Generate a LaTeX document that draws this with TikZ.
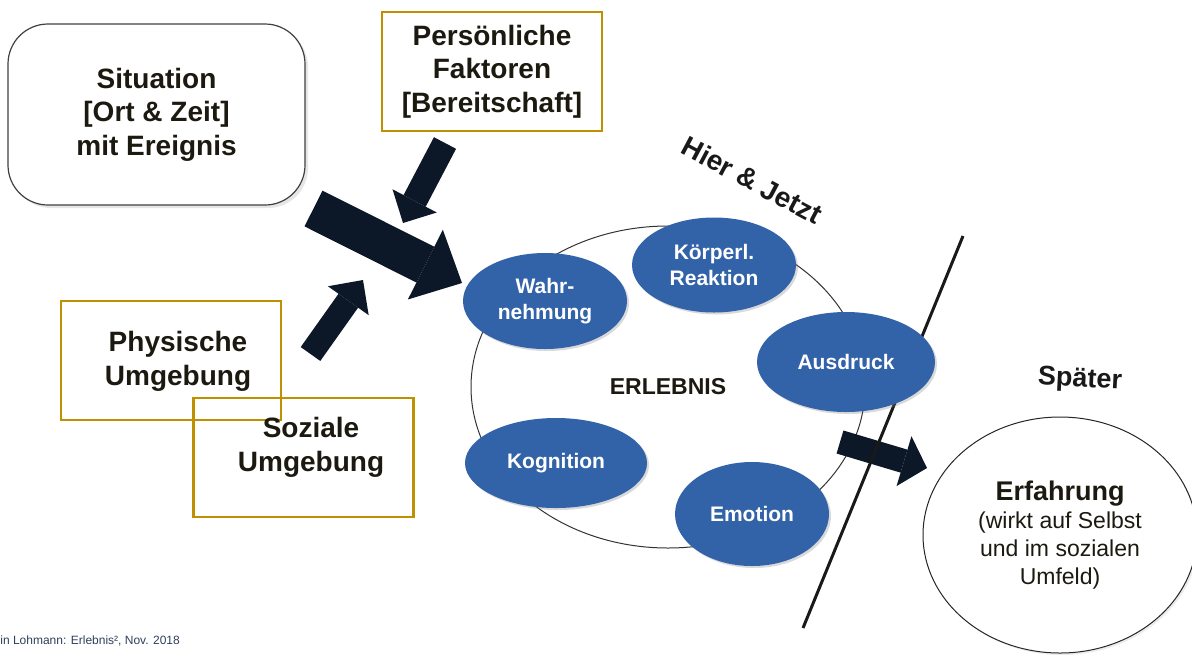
\documentclass[tikz,border=0pt]{standalone}
\usepackage{fontspec}
\setmainfont{Liberation Sans}
\usepackage{tikz}
\usetikzlibrary{arrows.meta,shapes.geometric,shadows}

\definecolor{goldframe}{HTML}{BF9000}
\definecolor{phaseblue}{HTML}{3263A9}
\definecolor{arrownavy}{HTML}{0C1727}
\definecolor{textdark}{HTML}{1C1A10}
\definecolor{sourceblue}{HTML}{2E3F5C}

\tikzset{
  factorbox/.style={draw=goldframe, line width=1.3pt, minimum width=110pt, minimum height=59.5pt},
  factortext/.style={align=center, text=textdark, font=\fontsize{14}{16.8}\selectfont\bfseries},
  phase/.style={ellipse, inner sep=0pt, fill=phaseblue, text=white, align=center,
    font=\fontsize{10.5}{13}\selectfont\bfseries,
    drop shadow={opacity=0.3, shadow xshift=1pt, shadow yshift=-1pt}},
  influence/.style={arrownavy, line width=#1}
}

\begin{document}
\begin{tikzpicture}[x=0.5pt,y=-0.5pt]

  \useasboundingbox (0,0) rectangle (1192,654);

  % Draw the boxes on the left
  \node[draw=black!75, line width=0.6pt, fill=white, rounded corners=20pt,
    minimum width=148.5pt, minimum height=90.5pt, factortext,
    drop shadow={opacity=0.2, shadow xshift=1.5pt, shadow yshift=-1.5pt}]
    (sit) at (156.5,114.5) {Situation\\{}[Ort \& Zeit]\\mit Ereignis};
  \node[factorbox, factortext] (pers) at (492,71.5) {Persönliche\\Faktoren\\{}[Bereitschaft]};
  \node[factorbox] (phys) at (171,360.5) {};
  \node[factortext] at (178,361.5) {Physische\\Umgebung};
  \node[factorbox] (soz) at (303.5,457.5) {};
  \node[factortext] at (311,447.5) {Soziale\\Umgebung};

  % Draw the block arrows
  \coordinate (sittail) at (313.5,208.5);
  \coordinate (sittip) at (462,283);
  \coordinate (perstail) at (445,143);
  \coordinate (perstip) at (403,223);
  \coordinate (physstail) at (310.5,354);
  \coordinate (physstip) at (363,280);
  \draw[influence=20pt, -{Triangle[length=20.5pt 0 0, width=39pt 0 0, line width=0pt]}] (sittail) -- (sittip);
  \draw[influence=12.5pt, -{Triangle[length=12.5pt 0 0, width=25pt 0 0, line width=0pt]}] (perstail) -- (perstip);
  \draw[influence=12pt, -{Triangle[length=12.7pt 0 0, width=25pt 0 0, line width=0pt]}] (physstail) -- (physstip);

  % Draw the experience cycle
  \node[ellipse, draw=black!80, line width=0.5pt, inner sep=0pt, minimum width=197pt, minimum height=161pt,
    text=textdark, font=\fontsize{11.5}{13}\selectfont\bfseries] (erl) at (668,387) {ERLEBNIS};

  % Draw the arrow towards the experience and the time border
  \coordinate (erftail) at (840,442);
  \coordinate (erftip) at (927,468);
  \draw[influence=12pt, -{Triangle[length=12pt 0 0, width=26pt 0 0, line width=0pt]}] (erftail) -- (erftip);
  \coordinate (nowtop) at (963,236);
  \coordinate (nowbottom) at (803,628);
  \draw[line width=1.5pt, black!90] (nowtop) -- (nowbottom);

  % Draw the phases
  \node[phase, minimum width=82pt, minimum height=48pt] (wahr) at (545,301) {Wahr-\\nehmung};
  \node[phase, minimum width=82pt, minimum height=47.5pt] (koerper) at (714,265) {Körperl.\\Reaktion};
  \node[phase, minimum width=89pt, minimum height=50pt] (ausdruck) at (846,362) {Ausdruck};
  \node[phase, minimum width=91pt, minimum height=45pt] (kogn) at (556,463) {Kognition};
  \node[phase, minimum width=77pt, minimum height=52pt] (emo) at (752,514) {Emotion};

  % Draw the later experience
  \node[ellipse, draw=black!85, line width=0.5pt, fill=white, inner sep=0pt, minimum width=137pt, minimum height=118pt,
    align=center, text=textdark, font=\fontsize{11.5}{14}\selectfont,
    drop shadow={opacity=0.15, shadow xshift=1pt, shadow yshift=-1pt}]
    (erf) at (1060,535) {{\fontsize{13.5}{16}\selectfont\bfseries Erfahrung}\\(wirkt auf Selbst\\und im sozialen\\Umfeld)};

  % Label the time frames
  \node[rotate=-28, text=black!90, font=\fontsize{14}{16}\selectfont\bfseries] (hier) at (752,180) {Hier \& Jetzt};
  \node[rotate=-3, text=black!90, font=\fontsize{13.5}{15}\selectfont\bfseries] (spaeter) at (1080,380) {Später};

  % Source
  \node[anchor=west, inner sep=0pt, text=sourceblue, font=\fontsize{6}{7}\selectfont] (quelle) at (0,641) {in Lohmann: Erlebnis², Nov. 2018};

\end{tikzpicture}
\end{document}
